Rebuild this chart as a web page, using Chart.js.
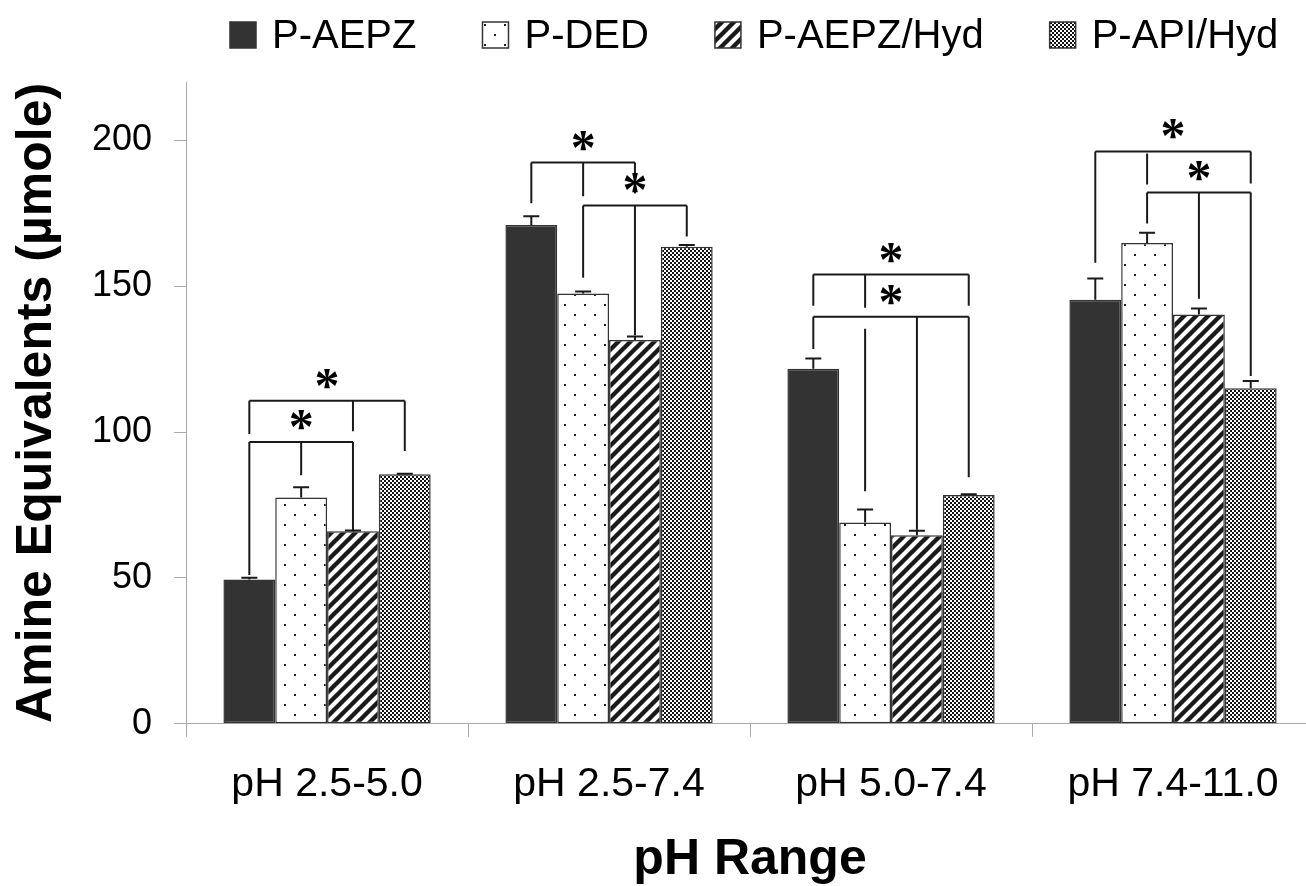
<!DOCTYPE html>
<html>
<head>
<meta charset="utf-8">
<script src="https://cdn.jsdelivr.net/npm/chart.js@4.4.1/dist/chart.umd.min.js"></script>
<style>
  html, body { margin: 0; padding: 0; background: #fff; overflow: hidden; }
  canvas { display: block; }
</style>
</head>
<body>
<canvas id="chart" width="1314" height="886"></canvas>
<script>
const categories = ["pH 2.5-5.0", "pH 2.5-7.4", "pH 5.0-7.4", "pH 7.4-11.0"];
const seriesNames = ["P-AEPZ", "P-DED", "P-AEPZ/Hyd", "P-API/Hyd"];

const aepz = [49.5, 171, 121.7, 145.4];
const aepzErr = [0.6, 3, 3.5, 7.2];
const ded = [77.6, 147.5, 69, 164.8];
const dedErr = [3.5, 0.7, 4.5, 3.5];
const aepzHyd = [66, 131.6, 64.6, 140.3];
const aepzHydErr = [0.3, 1.2, 1.6, 2.1];
const apiHyd = [85.5, 163.5, 78.4, 115];
const apiHydErr = [0.2, 0.6, 0.3, 2.5];

const yTicks = [0, 50, 100, 150, 200];

// significance brackets: category, bracket height, legs [bar, legTop (null = bracket), legBottom]
const brackets = [
  { cat: 0, level: 110.7, legs: [[0, null, 99.3], [2, null, 100.3], [3, null, 93.5]] },
  { cat: 0, level: 96.6, legs: [[0, null, 51], [1, null, 85.2], [2, null, 66]] },
  { cat: 1, level: 192.4, legs: [[0, null, 178.4], [1, null, 180.8], [2, null, 181.8]] },
  { cat: 1, level: 177.7, legs: [[1, null, 152.9], [2, null, 133.2], [3, null, 167]] },
  { cat: 2, level: 154, legs: [[0, null, 143.3], [1, null, 142.6], [3, null, 143.3]] },
  { cat: 2, level: 139.5, legs: [[0, null, 128.5], [1, 135.4, 79.7], [2, null, 66.5], [3, null, 84.5]] },
  { cat: 3, level: 196.2, legs: [[0, null, 158], [1, 195.5, 184.9], [3, null, 185.2]] },
  { cat: 3, level: 182.1, legs: [[1, null, 171.5], [2, null, 145.7], [3, null, 119.2]] }
];

Chart.defaults.font.family = '"Liberation Sans", Arial, sans-serif';
Chart.defaults.color = '#000';

function makePattern(size, draw) {
  const c = document.createElement('canvas');
  c.width = size; c.height = size;
  const g = c.getContext('2d');
  g.fillStyle = '#fff';
  g.fillRect(0, 0, size, size);
  draw(g, size);
  return document.getElementById('chart').getContext('2d').createPattern(c, 'repeat');
}

const dots = makePattern(20, (g) => {
  g.fillStyle = '#222';
  g.fillRect(4, 4, 2, 2);
  g.fillRect(14, 14, 2, 2);
});
const stripes = makePattern(12, (g, s) => {
  g.strokeStyle = '#1a1a1a';
  g.lineWidth = 4.4;
  [-s, 0, s].forEach(k => {
    g.beginPath();
    g.moveTo(k - 2, s + 2);
    g.lineTo(k + s + 2, -2);
    g.stroke();
  });
});
const checker = makePattern(4, (g) => {
  g.fillStyle = '#111';
  g.fillRect(0, 0, 2, 2);
  g.fillRect(2, 2, 2, 2);
});

const fills = ['#333333', dots, stripes, checker];
const values = [aepz, ded, aepzHyd, apiHyd];
const errors = [aepzErr, dedErr, aepzHydErr, apiHydErr];

const errorBars = {
  id: 'errorBars',
  afterDatasetsDraw(chart) {
    const ctx = chart.ctx, y = chart.scales.y;
    ctx.save();
    ctx.strokeStyle = '#1a1a1a';
    ctx.lineWidth = 2;
    chart.data.datasets.forEach((ds, i) => {
      chart.getDatasetMeta(i).data.forEach((bar, j) => {
        const top = y.getPixelForValue(values[i][j] + errors[i][j]);
        ctx.beginPath();
        ctx.moveTo(bar.x, bar.y);
        ctx.lineTo(bar.x, top);
        ctx.moveTo(bar.x - 8, top);
        ctx.lineTo(bar.x + 8, top);
        ctx.stroke();
      });
    });
    ctx.restore();
  }
};

const sigBrackets = {
  id: 'sigBrackets',
  afterDatasetsDraw(chart) {
    const ctx = chart.ctx, y = chart.scales.y;
    const xOf = (cat, bar) => chart.getDatasetMeta(bar).data[cat].x;
    ctx.save();
    ctx.strokeStyle = '#1a1a1a';
    ctx.fillStyle = '#000';
    ctx.lineWidth = 2;
    ctx.font = 'bold 50px "Liberation Serif", serif';
    ctx.textAlign = 'center';
    ctx.textBaseline = 'alphabetic';
    brackets.forEach(b => {
      const ly = y.getPixelForValue(b.level);
      const xs = b.legs.filter(l => l[1] === null).map(l => xOf(b.cat, l[0]));
      const x0 = Math.min(...xs), x1 = Math.max(...xs);
      ctx.beginPath();
      ctx.moveTo(x0, ly);
      ctx.lineTo(x1, ly);
      b.legs.forEach(([bar, top, bottom]) => {
        const x = xOf(b.cat, bar);
        ctx.moveTo(x, top === null ? ly : y.getPixelForValue(top));
        ctx.lineTo(x, y.getPixelForValue(bottom));
      });
      ctx.stroke();
      ctx.fillText('*', (x0 + x1) / 2, ly + 1);
    });
    ctx.restore();
  }
};

// legend drawn across the top with the bar patterns
const patternLegend = {
  id: 'patternLegend',
  afterDraw(chart) {
    const ctx = chart.ctx;
    ctx.save();
    ctx.font = '40px "Liberation Sans", Arial, sans-serif';
    ctx.textBaseline = 'alphabetic';
    ctx.textAlign = 'left';
    let x = 230;
    chart.data.datasets.forEach((ds) => {
      ctx.fillStyle = ds.backgroundColor;
      ctx.fillRect(x, 22, 26, 26);
      ctx.strokeStyle = '#333';
      ctx.lineWidth = 1.5;
      ctx.strokeRect(x, 22, 26, 26);
      ctx.fillStyle = '#000';
      ctx.fillText(ds.label, x + 42, 48);
      x += 42 + ctx.measureText(ds.label).width + 66;
    });
    ctx.restore();
  }
};

new Chart(document.getElementById('chart'), {
  type: 'bar',
  data: {
    labels: categories,
    datasets: seriesNames.map((name, i) => ({
      label: name,
      data: values[i],
      backgroundColor: fills[i],
      borderColor: '#333',
      borderWidth: 1.5,
      borderSkipped: false,
      categoryPercentage: 0.735,
      barPercentage: 1
    }))
  },
  options: {
    responsive: false,
    animation: false,
    layout: { padding: { top: 82, right: 0, left: 0, bottom: 0 } },
    plugins: {
      legend: { display: false },
      tooltip: { enabled: false }
    },
    scales: {
      x: {
        grid: { offset: true, drawOnChartArea: false, tickLength: 13, color: '#a8a8a8' },
        border: { color: '#a8a8a8' },
        ticks: { font: { size: 41 }, padding: 23 },
        title: {
          display: true,
          text: 'pH Range',
          font: { size: 50, weight: 'bold' },
          padding: { top: -2, bottom: -4 }
        }
      },
      y: {
        min: 0,
        max: 220,
        afterBuildTicks: (axis) => { axis.ticks = yTicks.map(v => ({ value: v })); },
        grid: { drawOnChartArea: false, tickLength: 12, color: '#a8a8a8' },
        border: { color: '#a8a8a8' },
        ticks: { font: { size: 36 }, padding: 22 },
        title: {
          display: true,
          text: 'Amine Equivalents (µmole)',
          font: { size: 50, weight: 'bold' },
          padding: { top: 7, bottom: 3 }
        }
      }
    }
  },
  plugins: [errorBars, sigBrackets, patternLegend]
});
</script>
</body>
</html>
